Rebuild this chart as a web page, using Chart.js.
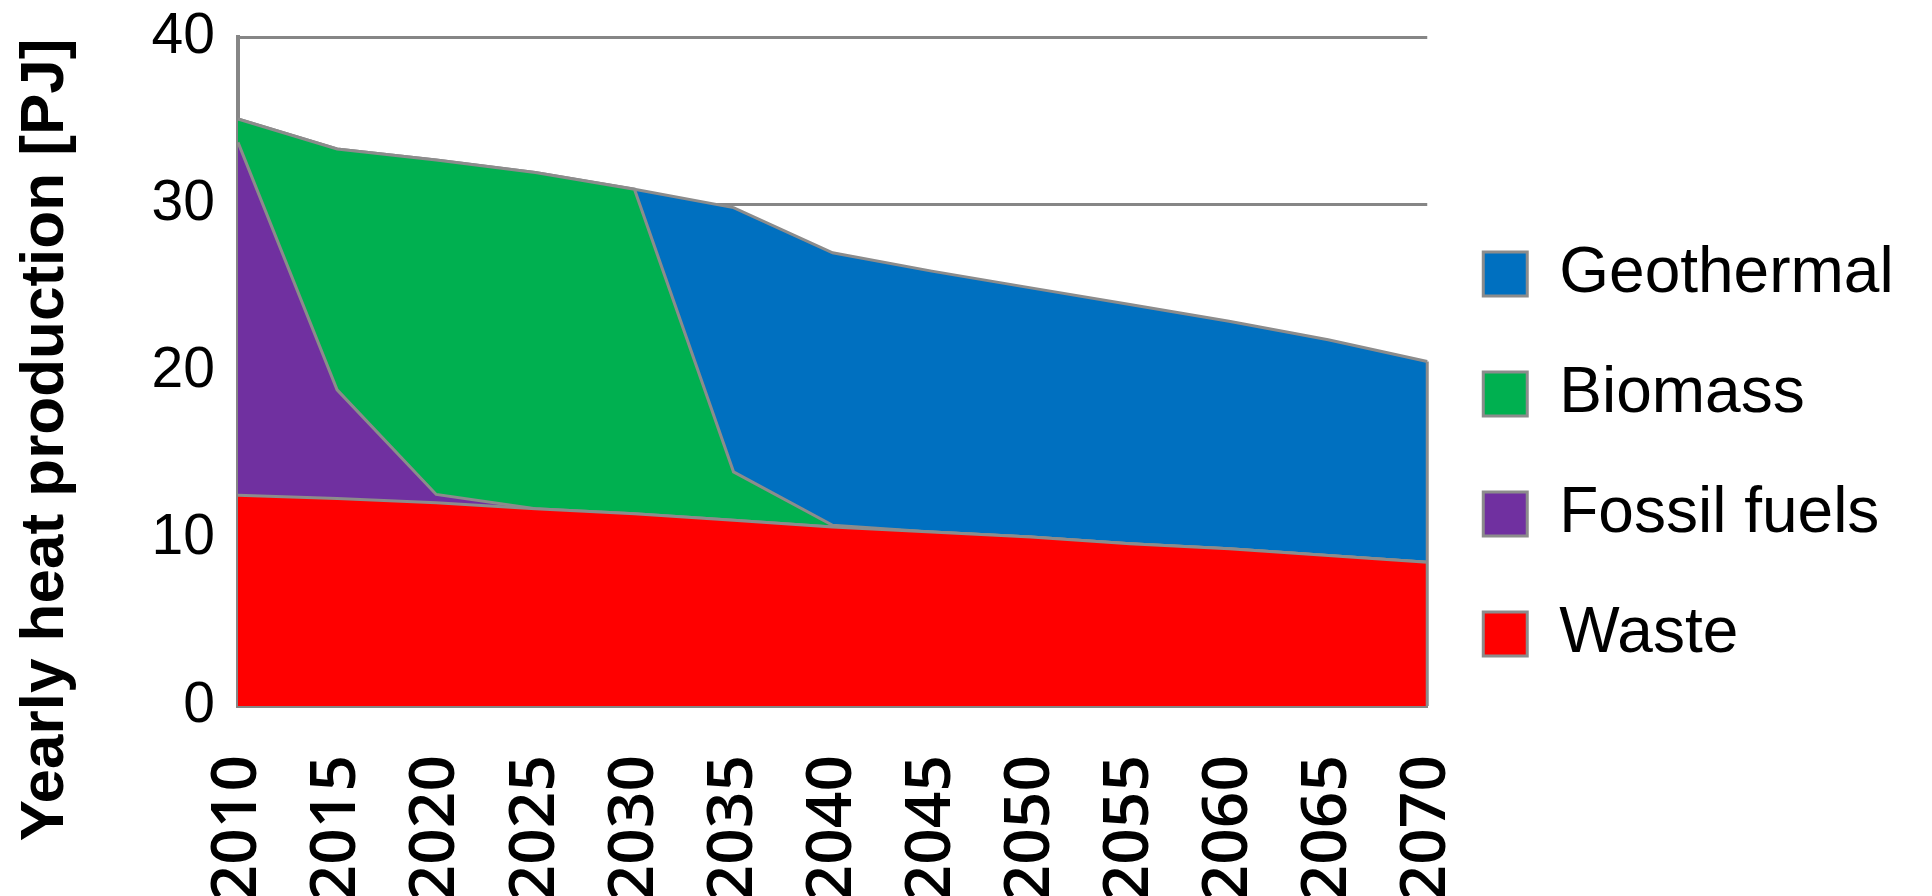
<!DOCTYPE html>
<html>
<head>
<meta charset="utf-8">
<script src="https://cdn.jsdelivr.net/npm/chart.js@4/dist/chart.umd.min.js"></script>
<style>
  html, body { margin: 0; padding: 0; background: #fff; }
  #wrap { width: 1932px; height: 896px; }
</style>
</head>
<body>
<div id="wrap"><canvas id="heatChart" width="1932" height="896"></canvas></div>
<script>
var years = ['2010', '2015', '2020', '2025', '2030', '2035', '2040', '2045', '2050', '2055', '2060', '2065', '2070'];

// yearly heat production per source [PJ], stacked bottom to top
var waste      = [12.6, 12.4, 12.15, 11.8, 11.5, 11.1, 10.7, 10.4, 10.1, 9.7, 9.4, 9.0, 8.6];
var fossil     = [21.1, 6.5, 0.5, 0, 0, 0, 0, 0, 0, 0, 0, 0, 0];
var biomass    = [1.4, 14.4, 20.0, 20.1, 19.4, 2.9, 0.1, 0, 0, 0, 0, 0, 0];
var geothermal = [0, 0, 0, 0, 0, 15.8, 16.3, 15.6, 14.9, 14.3, 13.6, 12.9, 12.0];

var yTicks = [0, 10, 20, 30, 40];
var yTitle = 'Yearly heat production [PJ]';

var edgeGrey = '#8c8c8c';
var axisGrey = '#868686';
var font = '"Liberation Sans", Arial, sans-serif';

function area(label, data, colour, fill) {
  return {
    label: label,
    data: data,
    backgroundColor: colour,
    borderColor: edgeGrey,
    borderWidth: 3,
    pointRadius: 0,
    tension: 0,
    fill: fill
  };
}

// closing edge of the stack at the last year, like the outline of an area series
var closeEdge = {
  id: 'closeEdge',
  afterDatasetsDraw: function (chart) {
    var x = chart.scales.x, y = chart.scales.y;
    var last = years.length - 1;
    var total = 0;
    chart.data.datasets.forEach(function (ds) { total += ds.data[last]; });
    var ctx = chart.ctx;
    ctx.save();
    ctx.strokeStyle = edgeGrey;
    ctx.lineWidth = 3;
    ctx.beginPath();
    ctx.moveTo(x.getPixelForValue(last), y.getPixelForValue(0));
    ctx.lineTo(x.getPixelForValue(last), y.getPixelForValue(total));
    ctx.stroke();
    ctx.restore();
  }
};

// axis title, drawn lower than the axis centre
var sideTitle = {
  id: 'sideTitle',
  afterDraw: function (chart) {
    var ctx = chart.ctx;
    ctx.save();
    ctx.translate(46, 440);
    ctx.rotate(-Math.PI / 2);
    ctx.font = 'bold 62px ' + font;
    ctx.fillStyle = '#000';
    ctx.textAlign = 'center';
    ctx.textBaseline = 'middle';
    ctx.fillText(yTitle, 0, 0);
    ctx.restore();
  }
};

new Chart(document.getElementById('heatChart'), {
  type: 'line',
  data: {
    labels: years,
    datasets: [
      area('Waste', waste, '#ff0000', 'origin'),
      area('Fossil fuels', fossil, '#7030a0', '-1'),
      area('Biomass', biomass, '#00b050', '-1'),
      area('Geothermal', geothermal, '#0070c0', '-1')
    ]
  },
  options: {
    responsive: false,
    animation: false,
    devicePixelRatio: 1,
    layout: { padding: { top: 12, right: 29, left: 0, bottom: 0 } },
    plugins: {
      tooltip: { enabled: false },
      legend: {
        position: 'right',
        reverse: true,
        labels: {
          boxWidth: 44,
          boxHeight: 44,
          padding: 56,
          color: '#000',
          font: { family: font, size: 64 }
        }
      }
    },
    scales: {
      x: {
        stacked: true,
        grid: { display: true, drawOnChartArea: false, drawTicks: false },
        border: { display: true, color: axisGrey, width: 4 },
        ticks: {
          autoSkip: false,
          minRotation: 90,
          maxRotation: 90,
          padding: 49,
          color: '#000',
          font: { family: '"Open Sans", ' + font, size: 64, weight: '600' }
        },
        afterFit: function (s) { s.height = 190; }
      },
      y: {
        stacked: true,
        min: 0,
        max: 40,
        afterBuildTicks: function (s) { s.ticks = yTicks.map(function (v) { return { value: v }; }); },
        grid: { color: axisGrey, lineWidth: 3, drawTicks: false },
        border: { display: true, color: axisGrey, width: 4 },
        ticks: {
          padding: 23,
          color: '#000',
          font: { family: font, size: 57 }
        },
        afterFit: function (s) {
          s.width = 238;
          s.paddingTop = 37;
          s.paddingBottom = 0;
        }
      }
    }
  },
  plugins: [closeEdge, sideTitle]
});
</script>
</body>
</html>
